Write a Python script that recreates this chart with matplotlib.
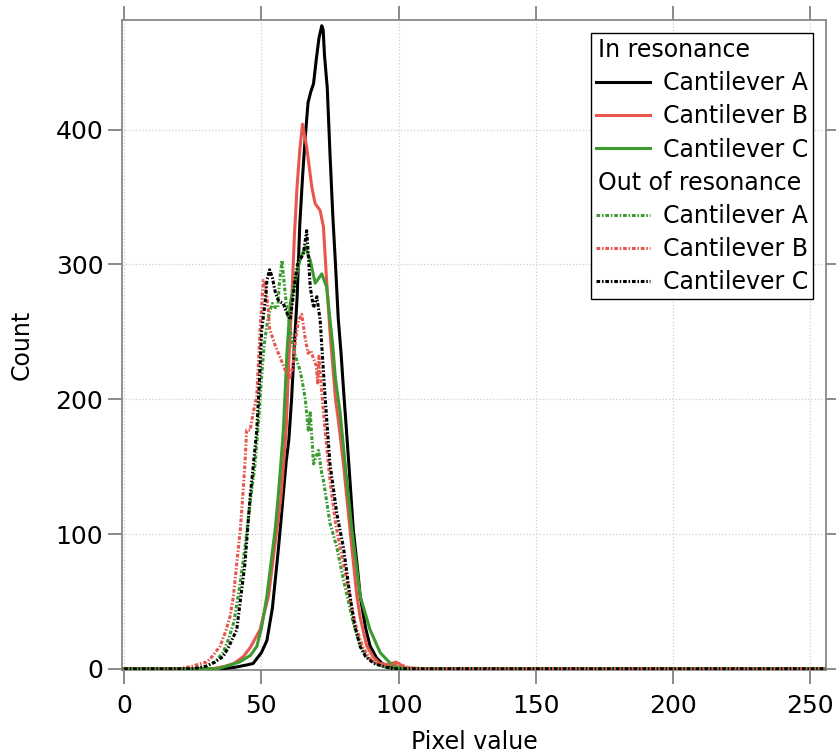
import numpy as np
import matplotlib
matplotlib.use("Agg")
import matplotlib.pyplot as plt
from matplotlib.lines import Line2D

# histogram values (pixel value -> count)
a_in_x = [0, 35, 40, 45, 47, 50, 52, 54, 55, 56, 57, 58, 59, 60, 61, 62, 63, 64, 65, 66, 67, 68, 69, 70, 71, 72,
          72.5, 73, 74, 75, 76, 77, 78, 79, 80, 81, 82, 83.5, 85, 86, 88, 89.6, 92, 94, 97, 100, 255]
a_in_y = [0, 0, 1, 3, 4, 12, 21, 45, 65, 85, 107, 130, 153, 170, 200, 240, 275, 330, 365, 395, 420, 428, 434, 452, 468, 477,
          474, 455, 431, 382, 337, 300, 260, 235, 205, 177, 148, 103, 75, 54, 30, 17, 8, 4, 1, 0, 0]

b_in_x = [0, 32, 37, 40, 43.4, 46, 49.5, 52.6, 55.6, 57, 58, 59, 60, 61, 62, 63, 64, 65, 66.5, 68.4, 69.6, 71.4,
          72.6, 74, 75, 76, 77, 78, 79, 80, 82.3, 84.8, 86, 88.4, 91, 93, 96, 99, 100, 102, 110, 255]
b_in_y = [0, 0, 2, 4, 9, 16, 29, 54, 103, 125, 150, 177, 228, 270, 320, 358, 385, 404, 387, 357, 345, 340,
          328, 280, 250, 225, 200, 185, 168, 150, 103, 54, 38, 17, 8, 4, 3, 5, 4, 1, 0, 0]

c_in_x = [0, 34, 42, 46, 48.3, 50, 52, 55, 56, 57, 58, 59.3, 60.5, 62.3, 64, 66, 67.8, 69.6, 71, 72, 73.8, 75,
          76, 77, 78.7, 80.5, 83, 86, 89.6, 93.3, 97, 100, 104, 255]
c_in_y = [0, 0, 5, 10, 16.5, 30, 54, 103, 125, 150, 177, 234, 271, 288, 303, 313, 303, 286, 290, 293, 283, 259,
          240, 215, 190, 152, 103, 54, 29, 12, 4, 1, 0, 0]

a_out_x = [0, 25, 30, 33, 36, 38, 40, 42, 44, 46, 47.7, 49, 50, 51, 52, 53, 54, 55, 56, 56.5, 57.5, 58, 59, 60,
           61, 62, 63, 64, 65, 66, 67.1, 67.8, 69, 70, 70.8, 72, 72.6, 75, 77.5, 79.9, 83.5, 86, 88.4, 91, 94, 98, 255]
a_out_y = [0, 0, 2, 5, 12, 22, 35, 60, 90, 125, 152, 185, 215, 240, 255, 265, 271, 268, 268, 285, 303, 292, 272, 258,
           245, 235, 228, 222, 212, 200, 177, 190, 152, 158, 162, 145, 140, 108, 90, 66, 34, 18, 9, 5, 2, 0, 0]

b_out_x = [0, 20, 25, 28, 30, 32, 35, 37, 38.6, 39.8, 41, 42.3, 43.2, 44, 44.6, 45.9, 47, 48.3, 49.5, 50.2, 50.7,
           51.5, 52.5, 53, 55, 56.8, 58, 59, 60.5, 61.5, 62.5, 63.5, 64.7, 65.9, 67, 68, 69, 70, 70.5, 71, 72, 73.2,
           75, 77, 78.7, 81.1, 83, 84.8, 87, 90, 93, 96, 98, 100, 102, 105, 255]
b_out_y = [0, 0, 2, 4, 5, 9, 17, 28, 39, 54, 78, 103, 128, 152, 177, 177, 190, 202, 251, 272, 288,
           285, 266, 252, 240, 231, 225, 220, 216, 225, 245, 258, 263, 246, 234, 236, 230, 225, 212, 232, 205, 177,
           140, 108, 90, 66, 45, 29, 16, 6, 4, 3, 3, 4, 2, 0, 0]

c_out_x = [0, 25, 30, 33, 36, 38, 41, 44, 45.9, 47, 48.3, 49.2, 50.1, 51.4, 52, 53, 54, 55, 56, 57, 58, 59,
           60.5, 61.5, 62.5, 63.5, 64.5, 65.3, 66, 66.5, 67, 67.8, 69, 70.2, 71.4, 72, 73.2, 75, 77.5, 79.9, 82.3,
           84, 86, 88, 91, 94, 98, 255]
c_out_y = [0, 0, 2, 5, 9, 16, 29, 78, 128, 150, 177, 210, 251, 273, 288, 296, 290, 280, 274, 272, 271, 265,
           259, 275, 292, 303, 305, 308, 318, 325, 310, 283, 268, 276, 259, 240, 202, 152, 115, 90, 54,
           32, 16.5, 9, 4, 2, 0, 0]

labels = ["Cantilever A", "Cantilever B", "Cantilever C"]
black = "#000000"
red = "#e8574f"
green = "#3c9a2f"

dotted = (0, (1.2, 0.6, 0.5, 0.6))

fig = plt.figure(figsize=(8.36, 7.53), dpi=100)
ax = fig.add_axes([0.146, 0.110, 0.842, 0.863])

lw = 2.2
ax.plot(a_in_x, a_in_y, color=black, lw=lw, zorder=3)
ax.plot(b_in_x, b_in_y, color=red, lw=lw, zorder=3)
ax.plot(c_in_x, c_in_y, color=green, lw=lw, zorder=3)
ax.plot(a_out_x, a_out_y, color=green, lw=lw, ls=dotted, zorder=4)
ax.plot(b_out_x, b_out_y, color=red, lw=lw, ls=dotted, zorder=4)
ax.plot(c_out_x, c_out_y, color=black, lw=lw, ls=dotted, zorder=4)

ax.set_xlim(-0.8, 255.8)
ax.set_ylim(-1, 481)
ax.set_xticks([0, 50, 100, 150, 200, 250])
ax.set_yticks([0, 100, 200, 300, 400])
ax.grid(True, color="#cfcfcf", ls=":", lw=0.9)
ax.set_axisbelow(True)

for s in ax.spines.values():
    s.set_color("#888888")
    s.set_linewidth(1.3)
ax.tick_params(axis="both", which="both", direction="out", length=10, width=1.2, color="#777777",
               top=True, right=True, labelsize=18)
ax.tick_params(axis="x", pad=7)
ax.tick_params(axis="y", pad=3.5)
ax.set_xlabel("Pixel value", fontsize=17, labelpad=9)
ax.set_ylabel("Count", fontsize=17, labelpad=16)

# legend with two group headers
fs = 17
blank = Line2D([], [], lw=0)
handles = [blank,
           Line2D([], [], color=black, lw=lw),
           Line2D([], [], color=red, lw=lw),
           Line2D([], [], color=green, lw=lw),
           blank,
           Line2D([], [], color=green, lw=lw, ls=dotted),
           Line2D([], [], color=red, lw=lw, ls=dotted),
           Line2D([], [], color=black, lw=lw, ls=dotted)]
headers = ["In resonance", "Out of resonance"]
texts = [headers[0]] + labels + [headers[1]] + labels
pad = 0.55
leg = ax.legend(handles, texts, loc="upper right", fontsize=fs, handlelength=2.3, handletextpad=pad,
                labelspacing=0.39, borderaxespad=0.55, borderpad=0.2, fancybox=False, framealpha=1,
                edgecolor="black")
leg.get_frame().set_linewidth(1.0)
pad_px = pad * fs * 100 / 72
for vpack in leg._legend_handle_box.get_children():
    for hpack in vpack.get_children():
        box, txt = hpack.get_children()
        if txt.get_children()[0].get_text() in headers:
            box.set_width(5 - pad_px)

fig.savefig("out.png", dpi=100)
